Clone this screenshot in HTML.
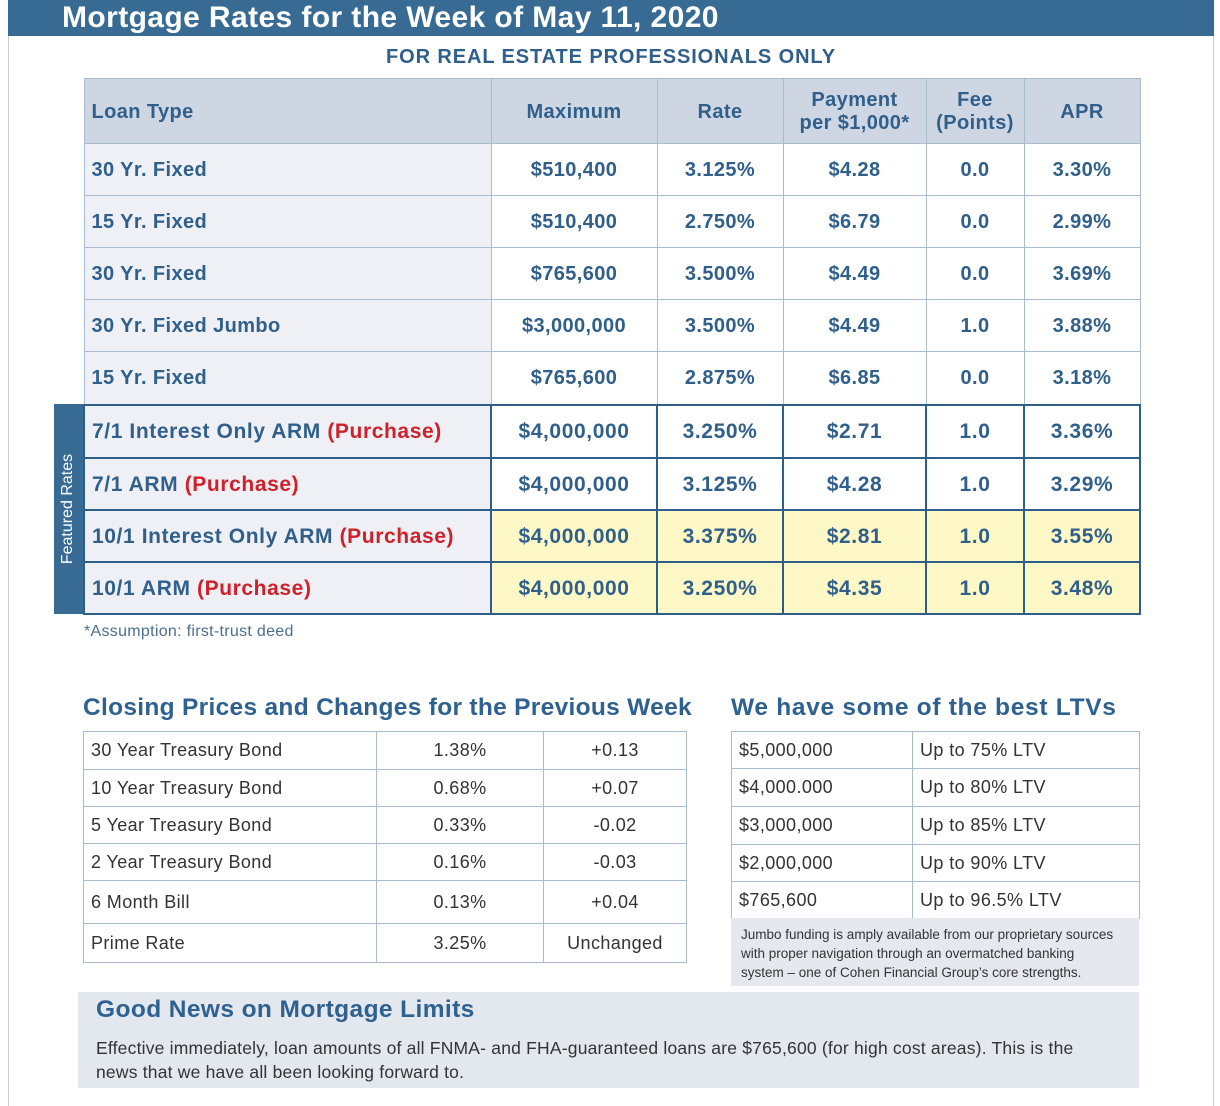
<!DOCTYPE html><html><head><style>
body{margin:0;width:1220px;height:1106px;background:#fff;position:relative;font-family:"Liberation Sans",sans-serif;overflow:hidden}
.a{position:absolute}
table{border-collapse:collapse;position:absolute;table-layout:fixed}
#m td{border:1px solid #a9bccf;color:#2f5f8a;font-weight:bold;font-size:20px;letter-spacing:0.4px;text-align:center;padding:2px 0 0 0;background:#fff}
#m td:first-child{text-align:left;padding-left:7px;background:#eef0f5}
#m tr.h td{background:#cfd6e3}
#m tr.f td{border:2px solid #2d5f8a;font-size:21px;letter-spacing:0.6px}
#m tr.y td{background:#fdf8c6}
#m tr.y td:first-child{background:#eef0f5}
.r{color:#d0202a}
.s td{border:1px solid #a9bccf;font-size:18px;letter-spacing:0.4px;color:#333;padding:0 0 0 7px}
.s td.c{text-align:center;padding:0}
h2{position:absolute;margin:0;font-size:24.5px;letter-spacing:0.3px;color:#2f6190;font-weight:bold}
</style></head><body>
<div class="a" style="left:8px;top:0;width:1206px;height:36px;background:#386b94"></div>
<div class="a" style="left:8px;top:36px;width:1px;height:1070px;background:#ccc"></div>
<div class="a" style="left:1213px;top:36px;width:1px;height:1070px;background:#ccc"></div>
<div class="a" style="left:62px;top:1px;font-size:30px;letter-spacing:0.4px;font-weight:bold;color:#fff">Mortgage Rates for the Week of May 11, 2020</div>
<div class="a" style="left:0;width:1222px;top:46px;text-align:center;font-size:20px;letter-spacing:0.9px;font-weight:bold;color:#2f5f8a">FOR REAL ESTATE PROFESSIONALS ONLY</div>
<div class="a" style="left:54px;top:404px;width:29px;height:210px;background:#386b94"></div>
<div class="a" style="left:54px;top:404px;width:29px;height:210px;display:flex;align-items:center;justify-content:center"><div style="transform:rotate(-90deg);white-space:nowrap;color:#fff;font-size:16px">Featured Rates</div></div>
<table id="m" style="left:83px;top:78px;width:1056px">
<colgroup><col style="width:407px"><col style="width:166px"><col style="width:126px"><col style="width:143px"><col style="width:98px"><col style="width:116px"></colgroup>
<tr class="h" style="height:65px"><td>Loan Type</td><td>Maximum</td><td>Rate</td><td>Payment<br>per $1,000*</td><td>Fee<br>(Points)</td><td>APR</td></tr>
<tr style="height:52px"><td>30 Yr. Fixed</td><td>$510,400</td><td>3.125%</td><td>$4.28</td><td>0.0</td><td>3.30%</td></tr>
<tr style="height:52px"><td>15 Yr. Fixed</td><td>$510,400</td><td>2.750%</td><td>$6.79</td><td>0.0</td><td>2.99%</td></tr>
<tr style="height:52px"><td>30 Yr. Fixed</td><td>$765,600</td><td>3.500%</td><td>$4.49</td><td>0.0</td><td>3.69%</td></tr>
<tr style="height:52px"><td>30 Yr. Fixed Jumbo</td><td>$3,000,000</td><td>3.500%</td><td>$4.49</td><td>1.0</td><td>3.88%</td></tr>
<tr style="height:53px"><td>15 Yr. Fixed</td><td>$765,600</td><td>2.875%</td><td>$6.85</td><td>0.0</td><td>3.18%</td></tr>
<tr class="f" style="height:53px"><td>7/1 Interest Only ARM <span class="r">(Purchase)</span></td><td>$4,000,000</td><td>3.250%</td><td>$2.71</td><td>1.0</td><td>3.36%</td></tr>
<tr class="f" style="height:52px"><td>7/1 ARM <span class="r">(Purchase)</span></td><td>$4,000,000</td><td>3.125%</td><td>$4.28</td><td>1.0</td><td>3.29%</td></tr>
<tr class="f y" style="height:52px"><td>10/1 Interest Only ARM <span class="r">(Purchase)</span></td><td>$4,000,000</td><td>3.375%</td><td>$2.81</td><td>1.0</td><td>3.55%</td></tr>
<tr class="f y" style="height:52px"><td>10/1 ARM <span class="r">(Purchase)</span></td><td>$4,000,000</td><td>3.250%</td><td>$4.35</td><td>1.0</td><td>3.48%</td></tr>
</table>
<div class="a" style="left:84px;top:623px;font-size:16px;letter-spacing:0.3px;color:#4a6f92">*Assumption: first-trust deed</div>
<h2 style="left:83px;top:694px">Closing Prices and Changes for the Previous Week</h2>
<h2 style="left:731px;top:694px;letter-spacing:0.7px">We have some of the best LTVs</h2>
<table class="s" style="left:83px;top:731px;width:603px">
<colgroup><col style="width:293px"><col style="width:167px"><col style="width:143px"></colgroup>
<tr style="height:38px"><td>30 Year Treasury Bond</td><td class="c">1.38%</td><td class="c">+0.13</td></tr>
<tr style="height:37px"><td>10 Year Treasury Bond</td><td class="c">0.68%</td><td class="c">+0.07</td></tr>
<tr style="height:37px"><td>5 Year Treasury Bond</td><td class="c">0.33%</td><td class="c">-0.02</td></tr>
<tr style="height:37px"><td>2 Year Treasury Bond</td><td class="c">0.16%</td><td class="c">-0.03</td></tr>
<tr style="height:43px"><td>6 Month Bill</td><td class="c">0.13%</td><td class="c">+0.04</td></tr>
<tr style="height:39px"><td>Prime Rate</td><td class="c">3.25%</td><td class="c">Unchanged</td></tr>
</table>
<table class="s" style="left:731px;top:731px;width:408px">
<colgroup><col style="width:181px"><col style="width:227px"></colgroup>
<tr style="height:37px"><td>$5,000,000</td><td>Up to 75% LTV</td></tr>
<tr style="height:38px"><td>$4,000.000</td><td>Up to 80% LTV</td></tr>
<tr style="height:38px"><td>$3,000,000</td><td>Up to 85% LTV</td></tr>
<tr style="height:37px"><td>$2,000,000</td><td>Up to 90% LTV</td></tr>
<tr style="height:37px"><td>$765,600</td><td>Up to 96.5% LTV</td></tr>
</table>
<div class="a" style="left:731px;top:918px;height:68px;background:#e5e8ee;padding:7px 20px 0 10px;font-size:13.5px;line-height:19px;color:#333;box-sizing:border-box;width:408px">Jumbo funding is amply available from our proprietary sources with proper navigation through an overmatched banking system – one of Cohen Financial Group’s core strengths.</div>
<div class="a" style="left:78px;top:992px;width:1061px;height:96px;background:#e3e7ee"></div>
<div class="a" style="left:96px;top:996px;font-size:24.5px;letter-spacing:0.4px;font-weight:bold;color:#2f6190">Good News on Mortgage Limits</div>
<div class="a" style="left:96px;top:1036px;width:1012px;font-size:17.5px;letter-spacing:0.2px;line-height:24px;color:#333">Effective immediately, loan amounts of all FNMA- and FHA-guaranteed loans are $765,600 (for high cost areas). This is the news that we have all been looking forward to.</div>
</body></html>
